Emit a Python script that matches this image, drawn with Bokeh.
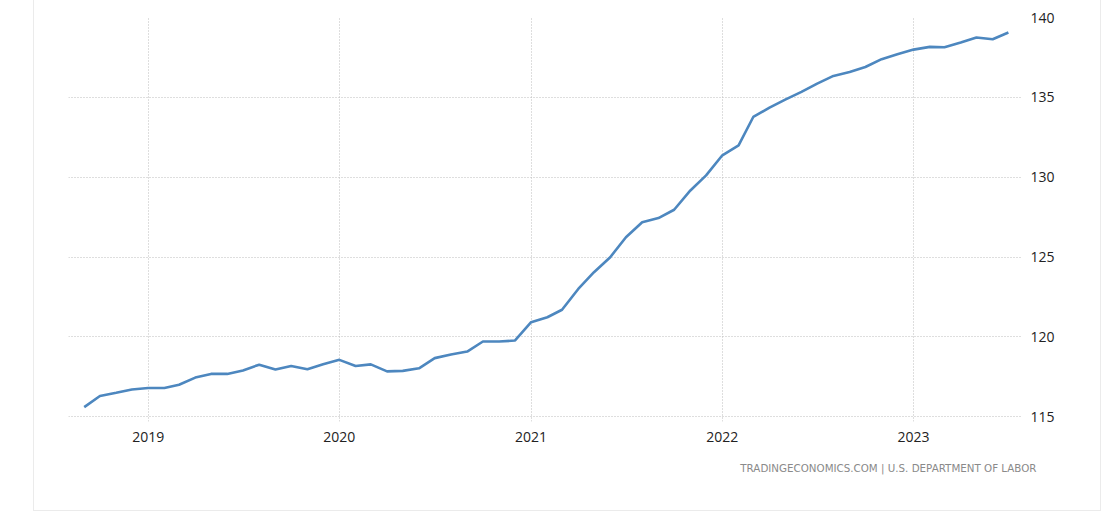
import pandas as pd
from bokeh.plotting import figure
from bokeh.models import FixedTicker, DatetimeTickFormatter, Range1d, Title
from bokeh.embed import file_html
from bokeh.resources import INLINE

# ---- data ----
start_month = "2018-09-01"
values = [
    115.6, 116.3, 116.5, 116.7,
    116.8, 116.8, 117.0, 117.45, 117.68, 117.68, 117.9, 118.26, 117.95, 118.18, 117.97, 118.28,
    118.56, 118.18, 118.28, 117.84, 117.87, 118.03, 118.67, 118.89, 119.08, 119.71, 119.71, 119.77,
    120.92, 121.23, 121.7, 123.0, 124.05, 124.99, 126.24, 127.18, 127.44, 127.96, 129.17, 130.11,
    131.37, 131.99, 133.77, 134.36, 134.86, 135.34, 135.86, 136.34, 136.59, 136.9, 137.39, 137.7,
    137.99, 138.16, 138.14, 138.43, 138.75, 138.64, 139.06,
]
dates = pd.date_range(start_month, periods=len(values), freq="MS")
year_ticks = ["2019-01-01", "2020-01-01", "2021-01-01", "2022-01-01", "2023-01-01"]
y_ticks = [115, 120, 125, 130, 135, 140]
source_text = "TRADINGECONOMICS.COM | U.S. DEPARTMENT OF LABOR"

def ms(d):
    return pd.Timestamp(d).value // 10**6

x_start = ms("2018-08-02")
x_end = ms("2023-07-26")

p = figure(
    width=1068, height=511,
    x_axis_type="datetime", y_axis_location="right",
    x_range=Range1d(x_start, x_end), y_range=Range1d(114.7, 140),
    output_backend="svg", toolbar_location=None,
    min_border_left=34, min_border_right=81, min_border_top=17, min_border_bottom=90,
    margin=(0, 0, 0, 33),
    styles={"border-left": "1px solid #ebebeb", "border-right": "1px solid #ebebeb",
            "border-bottom": "1px solid #ebebeb"},
)
p.outline_line_color = None
p.background_fill_color = "white"
p.border_fill_color = "white"

p.line(dates, values, line_color="#4d87bf", line_width=2.6)

# grids
for g in (p.xgrid, p.ygrid):
    g.grid_line_color = "#bdbdbd"
    g.grid_line_dash = "1 2"
    g.grid_line_width = 1

p.xaxis.ticker = FixedTicker(ticks=[ms(t) for t in year_ticks])
p.xaxis.formatter = DatetimeTickFormatter(years="%Y", months="%Y", days="%Y", hours="%Y")
p.yaxis.ticker = FixedTicker(ticks=y_ticks)

font = "Open Sans"
for ax in (p.xaxis, p.yaxis):
    ax.axis_line_color = None
    ax.major_tick_line_color = None
    ax.minor_tick_line_color = None
    ax.major_label_text_font = font
    ax.major_label_text_font_size = "14px"
    ax.major_label_text_color = "#222222"
p.xaxis.major_label_standoff = 4
p.yaxis.major_label_standoff = 3

src = Title(text=source_text, align="right", offset=-15, standoff=31,
            text_font="DejaVu Sans", text_font_size="10.3px", text_font_style="normal",
            text_color="#8a8a8a")
p.add_layout(src, "below")

open("out.html", "w").write(file_html(p, INLINE))
